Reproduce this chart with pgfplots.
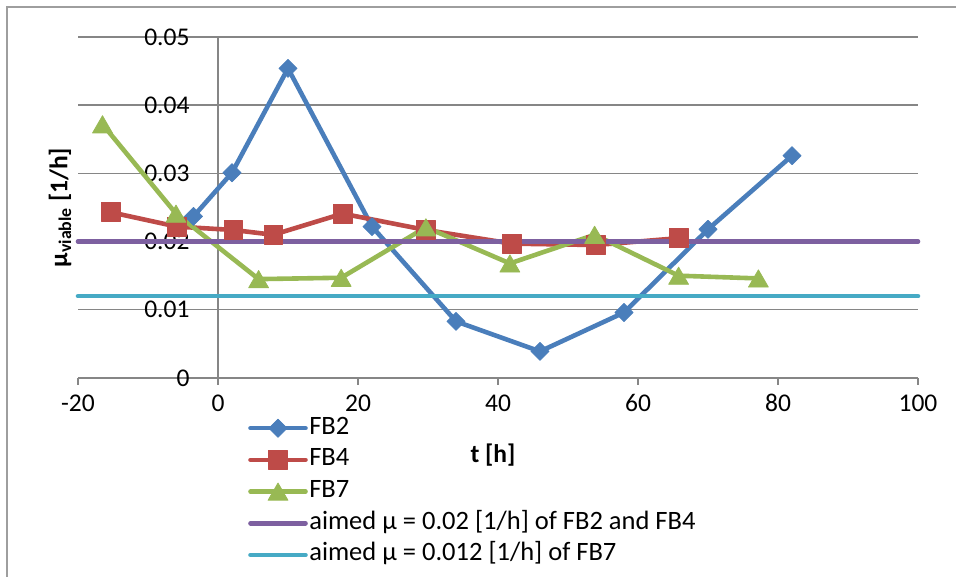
\documentclass[border=0pt]{standalone}
\usepackage{fontspec}
\setmainfont{Carlito}
\usepackage{pgfplots}
\pgfplotsset{compat=1.18}
\definecolor{cblue}{HTML}{4A7EBB}
\definecolor{cred}{HTML}{BE4B48}
\definecolor{cgreen}{HTML}{98B954}
\definecolor{cpurple}{HTML}{7D60A0}
\definecolor{ccyan}{HTML}{46AAC5}
\definecolor{cgrid}{HTML}{868686}
\begin{document}
\begin{tikzpicture}[font=\fontsize{25.5}{30}\selectfont]
\useasboundingbox (0pt,0pt) rectangle (956pt,577pt);
\draw[cgrid!80, line width=1.4pt] (7pt,-10pt) -- (7pt,570pt) -- (970pt,570pt);
\begin{axis}[
  at={(78pt,199pt)}, anchor=south west,
  scale only axis, width=840pt, height=341pt,
  xmin=-20, xmax=100, ymin=0, ymax=0.05,
  clip=false,
  axis x line*=bottom, axis y line*=middle,
  hide obscured x ticks=false, hide obscured y ticks=false,
  axis line style={cgrid, line width=1.4pt},
  xtick={-20,0,20,40,60,80,100},
  xticklabels={-20,0,20,40,60,80,100},
  ytick={0,0.01,0.02,0.03,0.04,0.05},
  yticklabels={0,0.01,0.02,0.03,0.04,0.05},
  scaled y ticks=false,
  tick align=outside, major tick length=7pt,
  xtick style={cgrid, line width=1.4pt},
  ytick style={draw=none},
  ymajorgrids,
  grid style={cgrid, line width=1.4pt},
  yticklabel style={anchor=east, xshift=-18pt},
  xticklabel style={anchor=north, yshift=-6pt},
  xlabel={\textbf{t [h]}},
  ylabel={\textbf{µ\textsubscript{viable} [1/h]}},
  xlabel style={at={(axis description cs:0.494,-0.226)}, anchor=center},
  ylabel style={at={(axis description cs:-0.0214,0.5)}, anchor=center, rotate=0},
  legend cell align=left,
  legend style={at={(axis description cs:0.2024,-0.1114)}, anchor=north west,
    draw=none, fill=none, inner sep=0pt, row sep=7.7pt, column sep=1.5pt,
    font=\fontsize{26.5}{31}\selectfont,
    nodes={inner sep=0pt, text height=18pt, text depth=6pt}},
  legend image code/.code={\draw[mark repeat=2,mark phase=2,#1] plot coordinates {(0pt,0pt) (27.5pt,0pt) (55pt,0pt)};},
  every axis plot/.append style={line width=4.6pt, line cap=round, line join=round},
]
\addplot[cblue, mark=square*, mark size=6.4pt, mark options={solid, rotate=45, line width=0.75pt, fill=cblue}] coordinates {
(-3.5,0.0237) (2,0.0301) (10,0.0454) (22,0.0222) (34,0.0083) (46,0.0039) (58,0.0096) (70,0.0218) (82,0.0326)};
\addlegendentry{FB2}
\addplot[cred, mark=square*, mark size=9.4pt, mark options={solid, line width=0.75pt, fill=cred}] coordinates {
(-15.3,0.0243) (-5.9,0.0222) (2.2,0.0217) (7.9,0.0210) (17.8,0.0241) (29.7,0.0217) (42,0.0197) (54,0.0195) (65.8,0.0205)};
\addlegendentry{FB4}
\addplot[cgreen, mark=triangle*, mark size=11.5pt, mark options={solid, line width=0.75pt, fill=cgreen, yshift=-2.9pt}] coordinates {
(-16.5,0.0372) (-6,0.0241) (5.8,0.0145) (17.6,0.0147) (29.7,0.0221) (41.7,0.0168) (53.8,0.0210) (65.8,0.0150) (77.2,0.0146)};
\addlegendentry{FB7}
\addplot[cpurple] coordinates {(-20,0.02) (100,0.02)};
\addlegendentry{aimed µ = 0.02 [1/h] of FB2 and FB4}
\addplot[ccyan] coordinates {(-20,0.012) (100,0.012)};
\addlegendentry{aimed µ = 0.012 [1/h] of FB7}
\end{axis}
\end{tikzpicture}
\end{document}
